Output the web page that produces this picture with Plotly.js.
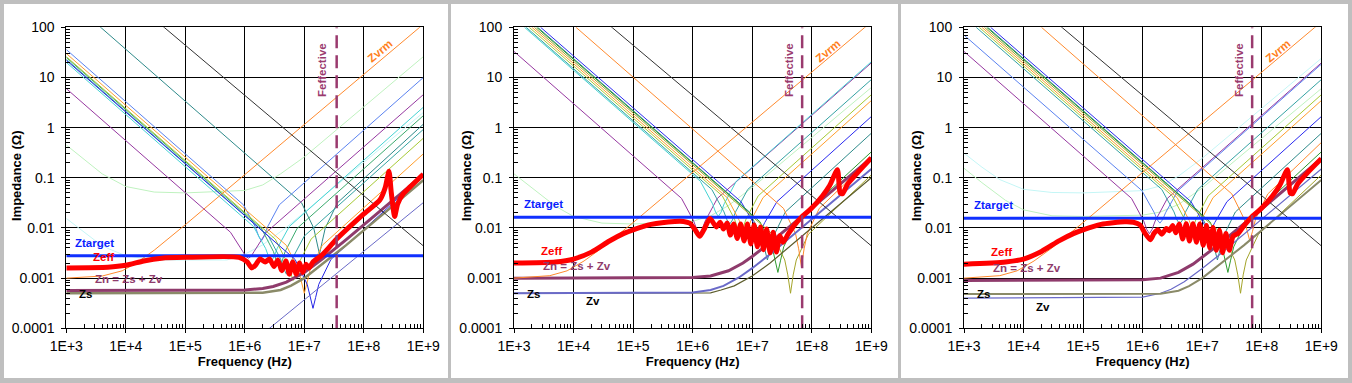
<!DOCTYPE html>
<html>
<head>
<meta charset="utf-8">
<script src="https://cdn.plot.ly/plotly-3.0.1.min.js"></script>
<style>html,body{margin:0;padding:0;background:#BFBFBF;}#chart{width:1352px;height:383px;}</style>
</head>
<body>
<div id="chart"></div>
<script>
// ---------- tick labels ----------
const xTickVals = [1e3, 1e4, 1e5, 1e6, 1e7, 1e8, 1e9];
const xTickText = ['1E+3', '1E+4', '1E+5', '1E+6', '1E+7', '1E+8', '1E+9'];
const yTickVals = [1e-4, 1e-3, 1e-2, 1e-1, 1, 10, 100];
const yTickText = ['0.0001', '0.001', '0.01', '0.1', '1', '10', '100'];

// ---------- shared ----------
const black_line = [[1e4, 440], [1e9, 0.0044]];

// ---------- panel 1 ----------
const p1_ztarget = 0.0028;
const p1_feff = 3.5e7;
const p1_cornflower = [[1e3,36],[9.5e5,0.0289],[1.52e6,0.0102],[1.71e6,0.0068],[1.9e6,0.0055],[2.11e6,0.0068],[2.38e6,0.0102],[3.8e6,0.0289],[1e9,9.97]];
const p1_orange = [[1e3,30],[5e6,0.0045],[8e6,0.00144],[9e6,0.0008],[1e7,0.0005],[1.11e7,0.0008],[1.25e7,0.00144],[2e7,0.0045],[1e9,0.3]];
const p1_ygreen = [[1e3,26],[3.25e6,0.006],[5.2e6,0.002],[5.85e6,0.00123],[6.5e6,0.0009],[7.2e6,0.00123],[8.1e6,0.002],[1.3e7,0.006],[1e9,0.615]];
const p1_dblue = [[1e3,22],[7e6,0.00236],[1.12e7,0.00075],[1.26e7,0.00041],[1.4e7,0.00025],[1.55e7,0.00041],[1.75e7,0.00075],[2.8e7,0.00236],[1e9,0.112]];
const p1_cyan = [[1e3,20],[1.4e6,0.0107],[2.24e6,0.0039],[2.52e6,0.00266],[2.8e6,0.0022],[3.1e6,0.00266],[3.5e6,0.0039],[5.6e6,0.0107],[1e9,2.55]];
const p1_teal = [[1e3,23],[2.5e6,0.0069],[4e6,0.0024],[4.5e6,0.00154],[5e6,0.0012],[5.55e6,0.00154],[6.25e6,0.0024],[1e7,0.0069],[1e9,0.92]];
const p1_purple = [[1e3,6],[5.75e5,0.0082],[9.2e5,0.00343],[1.035e6,0.00273],[1.15e6,0.0025],[1.28e6,0.00273],[1.44e6,0.00343],[2.3e6,0.0082],[1e9,4.54]];
const p1_dteal = [[3e3,127],[9e6,0.0317],[1.44e7,0.00996],[1.62e7,0.00535],[1.8e7,0.003],[2e7,0.00535],[2.25e7,0.00996],[3.6e7,0.0317],[1e9,1.17]];
const p1_sgreen = [[1e3,25],[1.9e6,0.00987],[3.04e6,0.00336],[3.42e6,0.00211],[3.8e6,0.0016],[4.2e6,0.00211],[4.75e6,0.00336],[7.6e6,0.00987],[1e9,1.73]];
const p1_lgreen = [[1e3,0.45],[2e3,0.23],[4e3,0.12],[1e4,0.067],[3e4,0.052],[1e5,0.05],[1e6,0.056],[2e6,0.072],[4e6,0.12],[1e7,0.26],[1e9,26]];
const p1_pcyan = [[1e3,0.0155],[2e3,0.0081],[3e3,0.0057],[5e3,0.0039],[1e4,0.0028],[3e4,0.0023],[5e5,0.0023],[1e6,0.003],[2e6,0.0046],[5e6,0.0103],[1e9,2]];
const p1_zv = [[1e6,3.8e-5],[2.6e6,1e-4],[1e9,0.032]];
const p1_zs = [[1e3,0.0005],[2e6,0.00051],[4e6,0.00058],[6e6,0.00071],[1e7,0.001],[2e7,0.0019],[5e7,0.0045],[1e9,0.09]];
const p1_zn = [[1e3,0.00057],[1e6,0.00058],[2e6,0.00062],[3e6,0.00068],[5e6,0.00083],[1e7,0.0013],[2e7,0.0024],[5e7,0.0058],[1e9,0.115]];
const p1_zvrm = [[1e3,0.001],[4e3,0.0011],[8.7e3,0.0014],[1.5e4,0.002],[3e4,0.0036],[1e5,0.0116],[1e9,115]];
const p1_zeff = [[1e3,0.0016],[5e3,0.00165],[1e4,0.0018],[2e4,0.0022],[4e4,0.0025],[1e5,0.0026],[8e5,0.0026],[1.1e6,0.0021],[1.3e6,0.0016],[1.5e6,0.0018],[1.8e6,0.0024],[2.2e6,0.0021],[2.6e6,0.0024],[3.1e6,0.0017],[3.6e6,0.0023],[4.2e6,0.0014],[4.9e6,0.0022],[5.6e6,0.0012],[6.4e6,0.0021],[7.3e6,0.0012],[8.3e6,0.002],[9.4e6,0.0013],[1.07e7,0.0019],[1.2e7,0.0016],[1.4e7,0.0021],[2e7,0.0029],[3.5e7,0.006],[1e8,0.019],[1.86e8,0.036],[2.3e8,0.065],[2.65e8,0.135],[2.9e8,0.05],[3.3e8,0.017],[3.7e8,0.03],[4.6e8,0.048],[6e8,0.066],[1e9,0.118]];

// ---------- panel 2 ----------
const p2_ztarget = 0.0163;
const p2_feff = 6.9e7;
const p2_purple = [[1e3,33],[6.5e5,0.0389],[1.04e6,0.0138],[1.17e6,0.0094],[1.3e6,0.0077],[1.44e6,0.0094],[1.625e6,0.0138],[2.6e6,0.0389],[1e9,19.5]];
const p2_teal = [[1.6e3,100],[2.1e6,0.0584],[3.36e6,0.0209],[3.78e6,0.0144],[4.2e6,0.012],[4.66e6,0.0144],[5.25e6,0.0209],[8.4e6,0.0584],[1e9,9.07]];
const p2_cyan = [[1.5e3,100],[1.35e6,0.0851],[2.16e6,0.0302],[2.43e6,0.0206],[2.7e6,0.017],[3e6,0.0206],[3.38e6,0.0302],[5.4e6,0.0851],[1e9,20.6]];
const p2_ygreen = [[1.8e3,100],[3.15e6,0.0436],[5.04e6,0.0151],[5.67e6,0.01],[6.3e6,0.008],[7e6,0.01],[7.9e6,0.0151],[1.26e7,0.0436],[1e9,4.53]];
const p2_orange = [[2e3,100],[3.8e6,0.0402],[6.08e6,0.014],[6.84e6,0.0093],[7.6e6,0.0075],[8.44e6,0.0093],[9.5e6,0.014],[1.52e7,0.0402],[1e9,3.46]];
const p2_blue = [[2.8e3,100],[6.5e6,0.0334],[1.04e7,0.0129],[1.17e7,0.0096],[1.3e7,0.0085],[1.44e7,0.0096],[1.63e7,0.0129],[2.6e7,0.0334],[1e9,1.66]];
const p2_teal2 = [[2.5e3,100],[9e6,0.0208],[1.44e7,0.00667],[1.62e7,0.00372],[1.8e7,0.0023],[2e7,0.00372],[2.25e7,0.00667],[3.6e7,0.0208],[1e9,0.772]];
const p2_green = [[2.4e3,100],[1.35e7,0.0133],[2.16e7,0.0042],[2.43e7,0.00228],[2.7e7,0.0013],[3e7,0.00228],[3.38e7,0.0042],[5.4e7,0.0133],[1e9,0.329]];
const p2_olive = [[2.2e3,100],[2.2e7,0.0075],[3.52e7,0.0023],[3.96e7,0.00116],[4.4e7,0.0005],[4.88e7,0.00116],[5.5e7,0.0023],[8.8e7,0.0075],[1e9,0.114]];
const p2_orange2 = [[1.1e4,100],[3.35e7,0.0246],[5.36e7,0.00758],[6.03e7,0.00384],[6.7e7,0.0017],[7.44e7,0.00384],[8.38e7,0.00758],[1.34e8,0.0246],[1e9,0.245]];
const p2_lgreen = [[1e3,0.12],[2e3,0.062],[5e3,0.027],[1e4,0.017],[3e4,0.0125],[1e5,0.012],[1e6,0.0136],[2e6,0.0174],[4e6,0.028],[1e7,0.064],[1e9,6.3]];
const p2_zs = [[1e3,0.0005],[1e6,0.00052],[2e6,0.00058],[3.3e6,0.0007],[6e6,0.00103],[1e7,0.00158],[2e7,0.003],[1e9,0.15]];
const p2_zv = [[1e3,0.0005],[2e6,0.00051],[3e6,0.00058],[5e6,0.0007],[1e7,0.0011],[2e7,0.002],[5e7,0.005],[1e9,0.1]];
const p2_zn = [[1e3,0.001],[1e6,0.00103],[2e6,0.0011],[4e6,0.0014],[7e6,0.002],[1e7,0.0027],[2e7,0.0051],[5e7,0.0125],[1e9,0.25]];
const p2_zvrm = [[1e3,0.001],[4e3,0.00112],[7.8e3,0.0014],[1.5e4,0.0022],[3e4,0.004],[1e5,0.0128],[1e9,128]];
const p2_zeff = [[1e3,0.002],[5e3,0.0021],[1e4,0.0024],[2e4,0.0033],[4e4,0.0055],[7e4,0.0078],[1e5,0.0092],[2e5,0.0118],[5e5,0.0135],[7e5,0.0135],[9e5,0.0124],[1.1e6,0.0092],[1.32e6,0.0068],[1.6e6,0.01],[1.95e6,0.0155],[2.5e6,0.0105],[2.9e6,0.013],[3.3e6,0.0095],[3.8e6,0.0125],[4.3e6,0.0072],[4.9e6,0.012],[5.6e6,0.0062],[6.4e6,0.012],[7.3e6,0.0055],[8.3e6,0.012],[9.5e6,0.0048],[1.08e7,0.0115],[1.22e7,0.0042],[1.38e7,0.0105],[1.55e7,0.0037],[1.75e7,0.0095],[2e7,0.0032],[2.25e7,0.0082],[2.55e7,0.0033],[2.9e7,0.007],[3.3e7,0.0052],[4e7,0.0075],[5e7,0.011],[6.9e7,0.017],[1e8,0.025],[1.5e8,0.043],[2e8,0.07],[2.7e8,0.145],[3e8,0.05],[3.3e8,0.048],[4e8,0.075],[6e8,0.13],[1e9,0.25]];

// ---------- panel 3 ----------
const p3_ztarget = 0.0157;
const p3_feff = 6.9e7;
const p3_purple = [[1e3,33],[6.5e5,0.0389],[1.04e6,0.0138],[1.17e6,0.0094],[1.3e6,0.0077],[1.44e6,0.0094],[1.625e6,0.0138],[2.6e6,0.0389],[1e9,19.5]];
const p3_cornflower = [[1e3,70],[9.75e5,0.0553],[1.56e6,0.0204],[1.755e6,0.0146],[1.95e6,0.0125],[2.16e6,0.0146],[2.44e6,0.0204],[3.9e6,0.0553],[1e9,18.4]];
const p3_pcyan = [[1e3,0.31],[2e3,0.163],[4e3,0.092],[1e4,0.059],[3e4,0.051],[1e5,0.05],[1e6,0.0555],[2e6,0.069],[4e6,0.108],[1e7,0.245],[1e9,24]];
const p3_lgreen = [[1e3,0.155],[2e3,0.08],[5e3,0.0354],[1e4,0.023],[3e4,0.0175],[1e5,0.017],[1e6,0.018],[2e6,0.0208],[4e6,0.0294],[1e7,0.0624],[1e9,6]];
const p3_teal = [[1.6e3,100],[2.1e6,0.0584],[3.36e6,0.0209],[3.78e6,0.0144],[4.2e6,0.012],[4.66e6,0.0144],[5.25e6,0.0209],[8.4e6,0.0584],[1e9,9.07]];
const p3_ygreen = [[1.8e3,100],[3.15e6,0.0436],[5.04e6,0.0151],[5.67e6,0.01],[6.3e6,0.008],[7e6,0.01],[7.9e6,0.0151],[1.26e7,0.0436],[1e9,4.53]];
const p3_orange = [[2e3,100],[3.8e6,0.0402],[6.08e6,0.014],[6.84e6,0.0093],[7.6e6,0.0075],[8.44e6,0.0093],[9.5e6,0.014],[1.52e7,0.0402],[1e9,3.46]];
const p3_blue = [[2.8e3,100],[6.5e6,0.0334],[1.04e7,0.0129],[1.17e7,0.0096],[1.3e7,0.0085],[1.44e7,0.0096],[1.63e7,0.0129],[2.6e7,0.0334],[1e9,1.66]];
const p3_teal2 = [[2.5e3,100],[9e6,0.0208],[1.44e7,0.00667],[1.62e7,0.00372],[1.8e7,0.0023],[2e7,0.00372],[2.25e7,0.00667],[3.6e7,0.0208],[1e9,0.772]];
const p3_green = [[2.4e3,100],[1.35e7,0.0133],[2.16e7,0.0042],[2.43e7,0.00228],[2.7e7,0.0013],[3e7,0.00228],[3.38e7,0.0042],[5.4e7,0.0133],[1e9,0.329]];
const p3_olive = [[2.2e3,100],[2.2e7,0.0075],[3.52e7,0.0023],[3.96e7,0.00116],[4.4e7,0.0005],[4.88e7,0.00116],[5.5e7,0.0023],[8.8e7,0.0075],[1e9,0.114]];
const p3_orange2 = [[2e4,100],[3.15e7,0.0476],[5.04e7,0.0153],[5.67e7,0.0086],[6.3e7,0.0055],[7e7,0.0086],[7.9e7,0.0153],[1.26e8,0.0476],[1e9,0.504]];
const p3_zs = [[1e3,0.00048],[2e6,0.00049],[4e6,0.00056],[6e6,0.00069],[1e7,0.001],[2e7,0.0019],[5e7,0.0045],[1e9,0.09]];
const p3_zv = [[1e3,0.0004],[1e6,0.00042],[2e6,0.0005],[3e6,0.0006],[5e6,0.00085],[1e7,0.00155],[2e7,0.003],[1e9,0.15]];
const p3_zn = [[1e3,0.0009],[1e6,0.00093],[2e6,0.001],[4e6,0.0013],[7e6,0.0019],[1e7,0.0026],[2e7,0.0049],[5e7,0.012],[1e9,0.24]];
const p3_zvrm = [[1e3,0.001],[4e3,0.00112],[7.8e3,0.0014],[1.5e4,0.0022],[3e4,0.004],[1e5,0.0128],[1e9,128]];
const p3_zeff = [[1e3,0.0019],[5e3,0.0021],[1e4,0.0024],[2e4,0.0034],[4e4,0.0056],[7e4,0.0078],[1e5,0.0092],[2e5,0.0118],[5e5,0.0133],[7e5,0.013],[9e5,0.0115],[1.1e6,0.0078],[1.35e6,0.0058],[1.55e6,0.0078],[1.8e6,0.0092],[2.1e6,0.0075],[2.5e6,0.0098],[2.8e6,0.0088],[3.2e6,0.0112],[3.6e6,0.008],[4.1e6,0.012],[4.7e6,0.006],[5.4e6,0.0122],[6.1e6,0.0055],[7e6,0.0122],[8e6,0.0052],[9.1e6,0.012],[1.04e7,0.0045],[1.18e7,0.0112],[1.34e7,0.004],[1.52e7,0.0102],[1.72e7,0.0036],[1.95e7,0.009],[2.2e7,0.0032],[2.5e7,0.0078],[2.85e7,0.0036],[3.3e7,0.0068],[4e7,0.0078],[5e7,0.011],[6.9e7,0.017],[1e8,0.025],[1.5e8,0.043],[2e8,0.07],[2.7e8,0.145],[3e8,0.05],[3.3e8,0.048],[4e8,0.075],[6e8,0.13],[1e9,0.24]];

// ---------- styling ----------
const C = {
  cornflower:'#5A82F0', orange:'#FF9E2C', ygreen:'#A6C935', dblue:'#2525E6', cyan:'#45D3D3',
  teal:'#35A3A3', purple:'#9638A0', dteal:'#2E8A8A', sgreen:'#3BAA6E', lgreen:'#BFF2BF',
  pcyan:'#C4F6F6', blue:'#2A2AF0', green:'#2F9A2F', olive:'#A4A42A', orange2:'#FF8A2E',
  zvSlate:'#6A6AC8', zsOlive:'#8A8A68', zn:'#8F3B6C', zvrm:'#FF8A2E', black:'#333333',
  target:'#1030FF', zeff:'#FF0000', feff:'#9A3A6E'
};
const FONT = 'Liberation Sans, Arial, sans-serif';
const W = 1352, H = 383;

function tr(pts, k, color, width, extra) {
  return {
    x: pts.map(p => p[0]), y: pts.map(p => p[1]),
    xaxis: k === 1 ? 'x' : 'x' + k, yaxis: k === 1 ? 'y' : 'y' + k,
    mode: 'lines', line: Object.assign({color: color, width: width}, extra || {}),
    hoverinfo: 'skip', showlegend: false
  };
}
function hline(v, k, color, width) { return tr([[1e3, v], [1e9, v]], k, color, width); }
function vline(v, k, color, width) { return tr([[v, 1e-4], [v, 100]], k, color, width, {dash: '13px,7px'}); }

const traces = [];
// panel 1
[[p1_lgreen,'lgreen'],[p1_pcyan,'pcyan'],[p1_dteal,'dteal'],[p1_purple,'purple'],[p1_cornflower,'cornflower'],
 [p1_cyan,'cyan'],[p1_sgreen,'sgreen'],[p1_teal,'teal'],[p1_ygreen,'ygreen'],[p1_orange,'orange'],[p1_dblue,'dblue']]
 .forEach(a => traces.push(tr(a[0], 1, C[a[1]], 1)));
traces.push(tr(p1_zv, 1, C.zvSlate, 1));
traces.push(tr(p1_zs, 1, C.zsOlive, 2.5));
traces.push(tr(p1_zn, 1, C.zn, 3));
traces.push(tr(p1_zvrm, 1, C.zvrm, 1));
traces.push(tr(black_line, 1, C.black, 1));
traces.push(hline(p1_ztarget, 1, C.target, 3));
traces.push(tr(p1_zeff, 1, C.zeff, 5, {shape:'spline', smoothing:0.6}));
traces.push(vline(p1_feff, 1, C.feff, 2.5));
// panel 2
[[p2_lgreen,'lgreen'],[p2_purple,'purple'],[p2_cyan,'cyan'],[p2_teal,'teal'],[p2_ygreen,'ygreen'],[p2_orange,'orange'],
 [p2_blue,'blue'],[p2_teal2,'dteal'],[p2_green,'green'],[p2_olive,'olive'],[p2_orange2,'orange2']]
 .forEach(a => traces.push(tr(a[0], 2, C[a[1]], 1)));
traces.push(tr(p2_zv, 2, '#5E5E2E', 1.2));
traces.push(tr(p2_zs, 2, C.zvSlate, 2));
traces.push(tr(p2_zn, 2, C.zn, 3));
traces.push(tr(p2_zvrm, 2, C.zvrm, 1));
traces.push(tr(black_line, 2, C.black, 1));
traces.push(hline(p2_ztarget, 2, C.target, 3));
traces.push(tr(p2_zeff, 2, C.zeff, 5, {shape:'spline', smoothing:0.6}));
traces.push(vline(p2_feff, 2, C.feff, 2.5));
// panel 3
[[p3_pcyan,'pcyan'],[p3_lgreen,'lgreen'],[p3_purple,'purple'],[p3_cornflower,'cornflower'],[p3_teal,'teal'],[p3_ygreen,'ygreen'],
 [p3_orange,'orange'],[p3_blue,'blue'],[p3_teal2,'dteal'],[p3_green,'green'],[p3_olive,'olive'],[p3_orange2,'orange2']]
 .forEach(a => traces.push(tr(a[0], 3, C[a[1]], 1)));
traces.push(tr(p3_zv, 3, C.zvSlate, 1.2));
traces.push(tr(p3_zs, 3, C.zsOlive, 2));
traces.push(tr(p3_zn, 3, C.zn, 3));
traces.push(tr(p3_zvrm, 3, C.zvrm, 1));
traces.push(tr(black_line, 3, C.black, 1));
traces.push(hline(p3_ztarget, 3, C.target, 3));
traces.push(tr(p3_zeff, 3, C.zeff, 5, {shape:'spline', smoothing:0.6}));
traces.push(vline(p3_feff, 3, C.feff, 2.5));

// ---------- axes ----------
const xMinor = [], yMinor = [];
for (let d = 3; d < 9; d++) for (let m = 2; m <= 9; m++) xMinor.push(m * Math.pow(10, d));
for (let d = -4; d < 2; d++) for (let m = 2; m <= 9; m++) yMinor.push(m * Math.pow(10, d));

const plotL = [66.3, 514, 964], plotR = [423.3, 871.3, 1321.3];
const plotT = 27.3, plotB = 328.3;
const common = {
  type: 'log', showgrid: true, gridcolor: '#000', gridwidth: 1, showline: true, linecolor: '#000', linewidth: 1,
  mirror: true, ticks: 'outside', ticklen: 4, tickcolor: '#000', zeroline: false, automargin: false,
  tickfont: {family: FONT, size: 14, color: '#000'}, tickmode: 'array'
};
function xaxis(i) {
  return Object.assign({}, common, {
    domain: [plotL[i] / W, plotR[i] / W], anchor: i === 0 ? 'y' : 'y' + (i + 1), range: [3, 9],
    tickvals: xTickVals, ticktext: xTickText, ticklabelstandoff: 1,
    minor: {tickmode: 'array', tickvals: xMinor, ticks: 'inside', ticklen: 4, tickcolor: '#000', showgrid: false},
    title: {text: '<b>Frequency (Hz)</b>', font: {family: FONT, size: 13, color: '#000'}, standoff: 0}
  });
}
function yaxis(i) {
  return Object.assign({}, common, {
    domain: [1 - plotB / H, 1 - plotT / H], anchor: i === 0 ? 'x' : 'x' + (i + 1), range: [-4, 2],
    tickvals: yTickVals, ticktext: yTickText, ticklabelstandoff: 4,
    minor: {tickmode: 'array', tickvals: yMinor, ticks: 'inside', ticklen: 4, tickcolor: '#000', showgrid: false}
  });
}

// ---------- text ----------
const offs = [0, 450, 900];
const annotations = [];
function ann(text, px, py, color, o) {
  annotations.push(Object.assign({
    text: text, x: px / W, y: 1 - py / H, xref: 'paper', yref: 'paper', showarrow: false,
    xanchor: 'left', yanchor: 'middle', font: {family: FONT, size: 11.5, color: color}
  }, o || {}));
}
for (let i = 0; i < 3; i++) {
  ann('<b>Impedance (Ω)</b>', 16 + offs[i], 176, '#000', {xanchor: 'center', textangle: -90, font: {family: FONT, size: 13, color: '#000'}});
}
const fx = [322, 789, 1239];
fx.forEach(x => ann('<b>Feffective</b>', x, 70, C.feff, {xanchor: 'center', textangle: -90}));
const zx = [380, 828, 1278];
zx.forEach(x => ann('<b>Zvrm</b>', x, 51, '#FF8020', {xanchor: 'center', textangle: -40}));
// panel 1 labels
ann('<b>Ztarget</b>', 73, 243, '#0A1EFF');
ann('<b>Zeff</b>', 91, 257, '#FF0000');
ann('<b>Zn = Zs + Zv</b>', 93, 279, '#8F3B6C');
ann('<b>Zs</b>', 77, 294, '#000');
// panel 2 labels
ann('<b>Ztarget</b>', 522, 204, '#0A1EFF');
ann('<b>Zeff</b>', 539, 251, '#FF0000');
ann('<b>Zn = Zs + Zv</b>', 541, 266, '#8F3B6C');
ann('<b>Zs</b>', 525, 294, '#000');
ann('<b>Zv</b>', 584, 301, '#000');
// panel 3 labels
ann('<b>Ztarget</b>', 972, 205, '#0A1EFF');
ann('<b>Zeff</b>', 989, 252, '#FF0000');
ann('<b>Zn = Zs + Zv</b>', 991, 268, '#8F3B6C');
ann('<b>Zs</b>', 975, 294, '#000');
ann('<b>Zv</b>', 1034, 307, '#000');

const panels = [[4, 448], [451, 898], [901, 1348]];
const shapes = panels.map(p => ({
  type: 'rect', xref: 'paper', yref: 'paper', layer: 'below',
  x0: p[0] / W, x1: p[1] / W, y0: 1 - 378 / H, y1: 1 - 4 / H,
  fillcolor: '#FFFFFF', line: {width: 0}
}));

const layout = {
  width: W, height: H, margin: {l: 0, r: 0, t: 0, b: 0, pad: 0},
  paper_bgcolor: '#BFBFBF', plot_bgcolor: '#FFFFFF', showlegend: false,
  font: {family: FONT, color: '#000'},
  xaxis: xaxis(0), yaxis: yaxis(0), xaxis2: xaxis(1), yaxis2: yaxis(1), xaxis3: xaxis(2), yaxis3: yaxis(2),
  shapes: shapes, annotations: annotations
};
Plotly.newPlot('chart', traces, layout, {staticPlot: true, displayModeBar: false});
</script>
</body>
</html>
